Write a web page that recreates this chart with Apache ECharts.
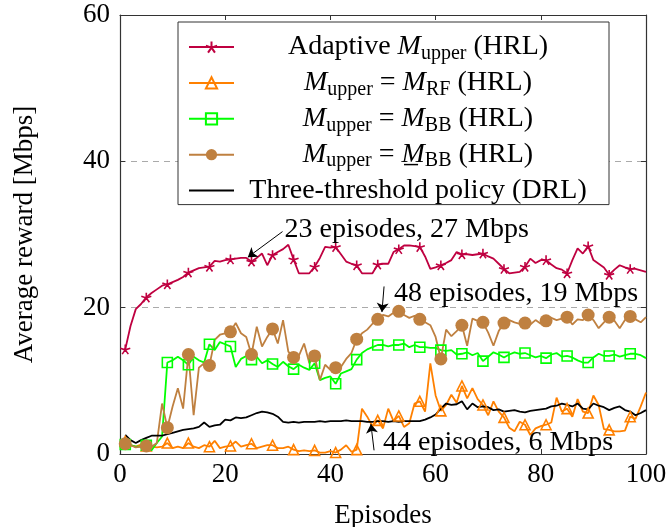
<!DOCTYPE html>
<html><head><meta charset="utf-8">
<script src="https://cdn.jsdelivr.net/npm/echarts@6/dist/echarts.min.js"></script>
<style>html,body{margin:0;padding:0;background:#fff}#c{width:667px;height:527px}</style>
</head><body><div id="c"></div>
<script>
// ---------- data ----------
const episodes = Array.from({length: 100}, (_, i) => i + 1);
const adaptiveHRL = [14.3,17.5,19.8,20.5,21.4,22.0,22.5,23.0,23.2,23.5, 23.8,24.2,24.8,25.1,25.4,25.5,25.6,26.4,26.3,26.5,
  26.6,26.7,26.8,26.8,26.3,26.8,27.4,25.8,27.2,27.6, 28.0,28.6,26.6,24.7,24.7,24.7,25.6,26.8,28.3,28.2,
  28.3,27.3,26.3,26.0,25.8,24.7,24.7,24.7,25.9,26.0, 26.0,27.6,28.0,28.5,28.5,28.4,28.3,27.0,25.3,25.5,
  25.8,26.1,26.5,27.6,27.3,27.3,27.2,27.3,27.4,27.0, 26.7,26.0,25.3,24.7,24.8,24.9,25.6,26.7,26.1,26.5,
  26.5,25.9,25.4,25.2,24.7,26.5,28.1,27.4,28.4,26.5, 26.0,25.5,24.5,25.2,25.8,25.5,25.3,25.3,25.1,24.9];
const rfHRL = [1.7,1.2,1.0,1.3,1.1,1.0,0.9,1.0,1.5,0.8, 1.0,0.8,1.5,1.0,0.8,1.2,1.0,1.8,0.8,1.0,
  1.1,1.7,1.0,1.2,1.4,0.8,1.0,1.2,1.2,0.8, 0.8,1.0,0.6,0.4,0.5,0.4,0.5,0.2,0.2,0.4,
  0.2,0.6,1.2,0.3,0.6,6.2,5.1,3.8,4.6,3.5, 6.2,4.5,5.2,3.7,4.2,6.9,7.2,5.8,12.4,8.0,
  5.9,6.7,8.1,7.0,9.3,7.6,9.0,7.5,6.7,5.3, 7.2,5.8,5.0,3.6,3.1,4.4,4.0,2.6,3.5,3.8,
  4.0,4.3,7.7,5.8,6.2,5.1,7.5,5.8,5.6,8.0, 6.7,3.4,3.3,3.1,3.1,3.2,5.1,4.8,6.5,8.4];
const bbHRL = [1.3,1.2,1.0,1.0,1.2,0.5,1.5,2.4,12.5,12.8, 13.3,12.8,12.2,13.3,12.8,12.5,15.0,14.2,15.3,15.0,
  14.7,11.9,13.0,13.4,12.9,13.3,12.4,12.8,12.3,11.9, 12.6,12.0,11.6,12.2,11.8,11.5,12.4,10.1,10.4,10.6,
  9.6,11.0,11.3,11.6,12.9,13.8,14.3,14.6,14.9,14.9, 14.7,14.9,14.9,15.1,14.6,14.9,14.6,14.6,14.5,14.5,
  14.2,14.1,14.2,13.6,13.7,13.9,13.5,13.8,12.7,13.3, 13.9,13.6,13.2,13.6,13.9,13.7,13.8,13.5,13.2,13.4,
  13.1,13.6,13.8,13.3,13.4,13.2,12.8,12.5,12.5,13.2, 13.7,13.4,13.4,13.6,13.3,13.5,13.7,13.7,13.5,13.1];
const bbLowHRL = [1.4,1.2,0.9,1.0,1.1,1.0,1.5,6.9,3.6,6.5, 9.0,6.2,13.6,5.3,11.8,12.4,12.1,15.6,16.3,16.5,
  16.7,17.9,16.5,16.0,13.6,17.4,14.7,16.0,17.1,15.1, 18.3,14.0,13.2,13.4,15.1,12.4,13.4,10.1,12.2,11.5,
  11.8,11.9,13.0,13.8,15.7,16.5,17.0,17.8,18.4,19.0, 18.8,19.3,19.5,19.0,18.6,18.9,18.4,18.0,17.6,16.0,
  13.0,17.0,16.1,16.8,17.6,14.8,18.5,18.2,18.0,16.6, 14.8,16.8,17.9,18.3,18.0,17.8,17.9,17.7,18.3,17.8,
  18.2,18.6,18.3,18.5,18.7,17.7,18.4,18.3,19.0,18.3, 17.2,18.0,18.7,18.2,17.2,18.3,18.8,18.4,18.0,18.7];
const threeThresholdDRL = [2.6,1.9,1.5,1.9,2.2,2.5,2.5,2.5,2.7,2.9, 3.1,3.3,3.4,3.5,3.7,4.3,3.7,3.9,4.0,4.7,
  4.6,5.0,4.9,5.0,5.3,5.6,5.8,5.7,5.5,5.1, 4.4,4.3,4.4,4.3,4.4,4.4,4.4,4.5,4.4,4.5,
  4.5,4.5,4.6,4.5,4.5,4.5,4.4,4.4,4.5,4.5, 4.4,4.5,4.4,4.5,4.5,4.5,4.5,4.7,5.0,5.4,
  6.2,6.9,6.7,6.8,7.2,6.1,6.9,6.4,6.5,6.4, 6.0,6.1,5.8,5.9,6.0,5.8,5.7,5.9,6.0,6.1,
  6.2,6.5,6.6,6.9,6.7,6.5,6.9,6.2,6.1,6.9, 6.6,6.4,6.0,6.3,6.5,6.0,5.8,5.3,5.6,6.0];
const xRange = [0, 100, 20];
const yRange = [0, 60, 20];
const annotationTexts = ['23 episodes, 27 Mbps', '48 episodes, 19 Mbps', '44 episodes, 6 Mbps'];

// ---------- annotation placement (data coords) ----------
const annotationLayout = [
  {textAt: [31.2, 30.6], from: [30.9, 30.4], to: [24.3, 26.9]},
  {textAt: [52.0, 21.9], from: [50.2, 22.9], to: [49.8, 19.4]},
  {textAt: [49.9, 1.55], from: [48.3, 0.5], to: [47.7, 4.1]}
];

const FF = '"Liberation Serif", "Times New Roman", serif';
const FS = 27;      // axis text
const LS = 28, SS = 20;  // legend / annotation text
const C = {red: '#bf0040', orange: '#ff8000', green: '#00ff00', brown: '#bf8040', black: '#000000'};

// legend labels as rich-text parts
const legendParts = {
  adaptive: [['t', 'Adaptive '], ['i', 'M'], ['s', 'upper'], ['t', ' (HRL)']],
  rf: [['i', 'M'], ['s', 'upper'], ['t', ' = '], ['i', 'M'], ['s', 'RF'], ['t', ' (HRL)']],
  bb: [['i', 'M'], ['s', 'upper'], ['t', ' = '], ['i', 'M'], ['s', 'BB'], ['t', ' (HRL)']],
  bblow: [['i', 'M'], ['s', 'upper'], ['t', ' = '], ['i', 'M\u0332'], ['s', 'BB'], ['t', ' (HRL)']],
  drl: [['t', 'Three-threshold policy (DRL)']]
};
const cv = document.createElement('canvas').getContext('2d');
function fontOf(k) {
  if (k === 'i') return 'italic ' + LS + 'px ' + FF;
  if (k === 's') return SS + 'px ' + FF;
  return LS + 'px ' + FF;
}
const BOX = 358;
const rich = {
  t: {fontFamily: FF, fontSize: LS, color: '#000', lineHeight: 34},
  i: {fontFamily: FF, fontSize: LS, fontStyle: 'italic', color: '#000', lineHeight: 34},
  s: {fontFamily: FF, fontSize: SS, color: '#000', padding: [13, 0, 0, 0]}
};
function legendFormatter(name) {
  const parts = legendParts[name];
  let w = 0;
  parts.forEach(([k, s]) => { cv.font = fontOf(k); w += cv.measureText(s).width; });
  const pad = Math.max(0, (BOX - w) / 2);
  rich['pl_' + name] = {width: pad, lineHeight: 34};
  return '{pl_' + name + '| }' + parts.map(([k, s]) => '{' + k + '|' + s + '}').join('') + '{pl_' + name + '| }';
}
const legendNames = ['adaptive', 'rf', 'bb', 'bblow', 'drl'];
const legendStrings = {};
legendNames.forEach(n => { legendStrings[n] = legendFormatter(n); });

function mk(arr) {
  return arr.map((v, i) => i % 4 === 0 ? [episodes[i], v] : {value: [episodes[i], v], symbol: 'none'});
}
const starPath = 'path://M0,-10L0,0M9.51,-3.09L0,0M5.88,8.09L0,0M-5.88,8.09L0,0M-9.51,-3.09L0,0';

function lineSeries(name, arr, color, symbol, size, filled) {
  return {
    type: 'line', name: name, data: mk(arr),
    symbol: symbol, symbolSize: size, showAllSymbol: true, symbolKeepAspect: true,
    lineStyle: {color: color, width: 1.8},
    itemStyle: filled ? {color: color, borderWidth: 0} : {color: 'rgba(0,0,0,0)', borderColor: color, borderWidth: 1.6},
    emphasis: {disabled: true}, silent: true
  };
}

const axisLineStyle = {color: '#333', width: 1.2};
const tickCommon = {show: true, inside: true, length: 5, lineStyle: {color: '#333', width: 1}};
const labelStyle = {fontFamily: FF, fontSize: FS, color: '#000'};

const option = {
  animation: false,
  backgroundColor: '#fff',
  grid: {left: 120, right: 21, top: 15, bottom: 73, outerBoundsMode: 'none', containLabel: false},
  xAxis: [
    {type: 'value', min: xRange[0], max: xRange[1], interval: xRange[2], position: 'bottom',
     axisLine: {show: true, onZero: false, lineStyle: axisLineStyle}, axisTick: tickCommon,
     axisLabel: Object.assign({margin: 7, showMinLabel: true, showMaxLabel: true}, labelStyle),
     splitLine: {show: false},
     name: 'Episodes', nameLocation: 'middle', nameGap: 48, nameTextStyle: labelStyle},
    {type: 'value', min: xRange[0], max: xRange[1], interval: xRange[2], position: 'top',
     axisLine: {show: true, onZero: false, lineStyle: axisLineStyle}, axisTick: tickCommon,
     axisLabel: {show: false}, splitLine: {show: false}}
  ],
  yAxis: [
    {type: 'value', min: yRange[0], max: yRange[1], interval: yRange[2], position: 'left',
     axisLine: {show: true, onZero: false, lineStyle: axisLineStyle}, axisTick: tickCommon,
     axisLabel: Object.assign({margin: 10, showMinLabel: true, showMaxLabel: true}, labelStyle),
     splitLine: {show: true, lineStyle: {color: '#aaaaaa', width: 1, type: [6, 5]}},
     name: 'Average reward [Mbps]', nameLocation: 'middle', nameGap: 82, nameTextStyle: labelStyle},
    {type: 'value', min: yRange[0], max: yRange[1], interval: yRange[2], position: 'right',
     axisLine: {show: true, onZero: false, lineStyle: axisLineStyle}, axisTick: tickCommon,
     axisLabel: {show: false}, splitLine: {show: false}}
  ],
  legend: {
    show: true, orient: 'vertical', left: 178, top: 22,
    padding: [11, 12, 0, 10], itemGap: 5.4, itemWidth: 45, itemHeight: 14,
    backgroundColor: '#fff', borderColor: '#333', borderWidth: 1, borderRadius: 0,
    selectedMode: false,
    data: [
      {name: 'adaptive'}, {name: 'rf'}, {name: 'bb'}, {name: 'bblow'},
      {name: 'drl', itemStyle: {opacity: 0}}
    ],
    formatter: n => legendStrings[n],
    textStyle: {fontFamily: FF, fontSize: LS, color: '#000', rich: rich}
  },
  series: [
    lineSeries('adaptive', adaptiveHRL, C.red, starPath, 10, false),
    lineSeries('rf', rfHRL, C.orange, 'triangle', 10, false),
    lineSeries('bb', bbHRL, C.green, 'rect', 10, false),
    lineSeries('bblow', bbLowHRL, C.brown, 'circle', 13, true),
    {
      type: 'line', name: 'drl', data: threeThresholdDRL.map((v, i) => [episodes[i], v]),
      symbol: 'none', lineStyle: {color: C.black, width: 1.8}, itemStyle: {color: C.black},
      emphasis: {disabled: true}, silent: true,
      markLine: {
        silent: true, symbol: ['none', 'arrow'], symbolSize: 9, precision: 3,
        lineStyle: {color: '#000', width: 1, type: 'solid'}, label: {show: false},
        emphasis: {disabled: true},
        data: annotationLayout.map(a => [{coord: a.from}, {coord: a.to}])
      },
      markPoint: {
        silent: true, symbol: 'circle', symbolSize: 1, itemStyle: {color: 'rgba(0,0,0,0)'},
        label: {show: true, position: 'right', distance: 0, color: '#000', fontFamily: FF, fontSize: LS,
                formatter: p => p.name},
        emphasis: {disabled: true},
        data: annotationLayout.map((a, i) => ({name: annotationTexts[i], coord: a.textAt}))
      }
    }
  ]
};
const chart = echarts.init(document.getElementById('c'), null, {renderer: 'canvas'});
chart.setOption(option);
</script>
</body></html>
